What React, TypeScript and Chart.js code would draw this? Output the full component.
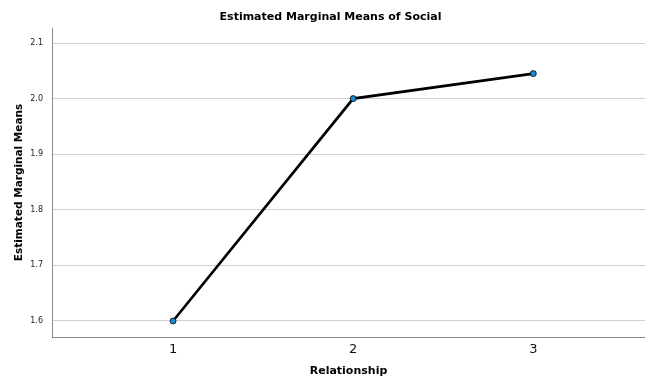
import React, { useEffect, useRef } from "react";
import { Chart, registerables } from "chart.js";

Chart.register(...registerables);

const categories = [1, 2, 3];
const means = [1.6, 2.0, 2.045];
const yTicks = [1.6, 1.7, 1.8, 1.9, 2.0, 2.1];

const TITLE_FONT = "'DejaVu Sans', sans-serif";

export default function App() {
  const ref = useRef<HTMLCanvasElement>(null);
  useEffect(() => {
    document.body.style.margin = "0";
    const canvas = ref.current!;
    const chart = new Chart(canvas, {
      type: "line",
      data: {
        datasets: [
          {
            data: categories.map((c, i) => ({ x: c, y: means[i] })),
            borderColor: "#000000",
            borderWidth: 2.7,
            pointRadius: 3,
            pointBackgroundColor: "#1a8ad8",
            pointBorderColor: "#000000",
            pointBorderWidth: 0.8,
            tension: 0,
          },
        ],
      },
      options: {
        responsive: false,
        animation: false,
        layout: { autoPadding: false, padding: { left: 16, right: 0, top: 0, bottom: 0 } },
        plugins: {
          legend: { display: false },
          tooltip: { enabled: false },
          title: {
            display: true,
            text: "Estimated Marginal Means of Social",
            color: "#000",
            font: { family: TITLE_FONT, size: 11, weight: "bold", lineHeight: "16px" },
            padding: { top: 9, bottom: 3 },
          },
        },
        scales: {
          x: {
            type: "linear",
            min: 0.328,
            max: 3.62,
            afterFit: (s: any) => {
              s.height = 42;
              s.paddingLeft = 0;
              s.paddingRight = 0;
            },
            afterBuildTicks: (s: any) => {
              s.ticks = categories.map((v) => ({ value: v }));
            },
            grid: { display: false, drawTicks: false },
            border: { display: true, color: "#8a8a8a", width: 1 },
            ticks: {
              color: "#111",
              padding: 5,
              font: { family: TITLE_FONT, size: 13 },
              callback: (v: any) => String(v),
            },
            title: {
              display: true,
              text: "Relationship",
              color: "#000",
              font: { family: TITLE_FONT, size: 11, weight: "bold", lineHeight: "16px" },
              padding: { top: 0, bottom: 0 },
            },
          },
          y: {
            type: "linear",
            min: 1.5712,
            max: 2.127,
            afterFit: (s: any) => {
              s.width = 36;
            },
            afterBuildTicks: (s: any) => {
              s.ticks = yTicks.map((v) => ({ value: v }));
            },
            grid: { color: "#cfcfcf", lineWidth: 1, drawTicks: false },
            border: { display: true, color: "#8a8a8a", width: 1 },
            ticks: {
              color: "#222",
              padding: 9,
              font: { family: "'DejaVu Sans', sans-serif", size: 8 },
              callback: (v: any) => Number(v).toFixed(1),
            },
            title: {
              display: true,
              text: "Estimated Marginal Means",
              color: "#000",
              font: { family: TITLE_FONT, size: 10.5, weight: "bold", lineHeight: "14px" },
              padding: { top: -4, bottom: 0 },
            },
          },
        },
      },
    });
    return () => chart.destroy();
  }, []);
  return (
    <div style={{ width: 645, height: 379, background: "#fff" }}>
      <canvas ref={ref} width={645} height={379} style={{ display: "block" }} />
    </div>
  );
}
